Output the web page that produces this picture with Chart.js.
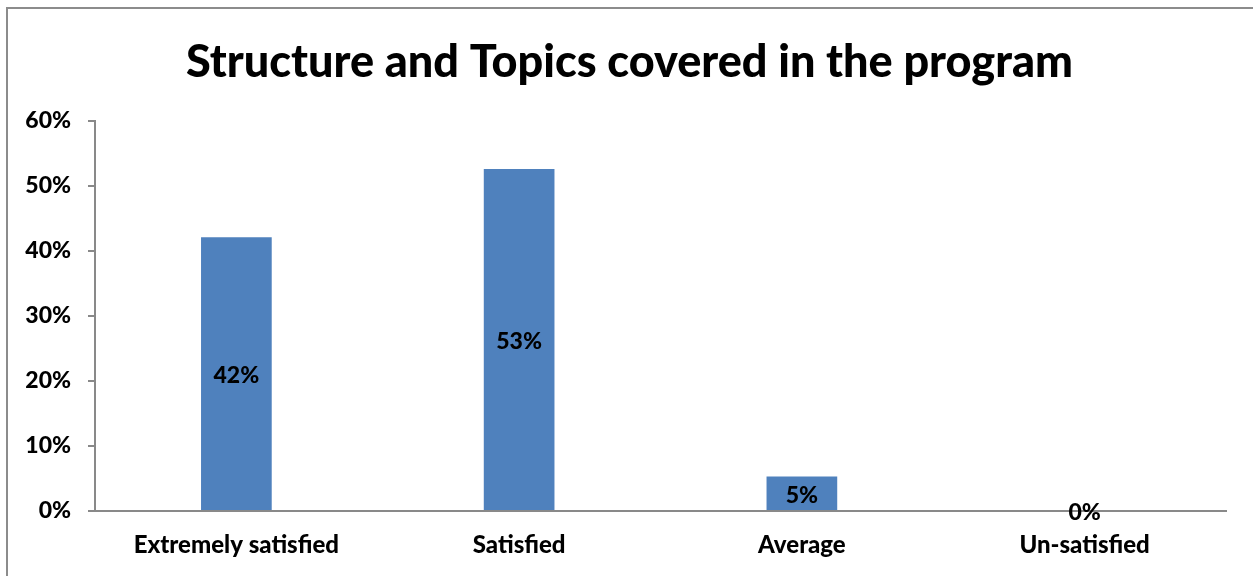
<!DOCTYPE html>
<html>
<head>
<meta charset="utf-8">
<script src="https://cdn.jsdelivr.net/npm/chart.js@4/dist/chart.umd.min.js"></script>
<style>
  html, body { margin: 0; padding: 0; background: #fff; }
  #wrap { position: relative; width: 1253px; height: 576px; overflow: hidden; }
  #frame { position: absolute; left: 6px; top: 7px; width: 1300px; height: 600px; border: 2px solid #8c8c8c; box-sizing: border-box; }
  #chart { position: absolute; left: 0; top: 0; }
</style>
</head>
<body>
<div id="wrap">
  <div id="frame"></div>
  <canvas id="chart" width="1253" height="576"></canvas>
</div>
<script>
// data
const categories = ['Extremely satisfied', 'Satisfied', 'Average', 'Un-satisfied'];
const shares = [42.1, 52.6, 5.3, 0];
const yTicks = [0, 10, 20, 30, 40, 50, 60];
const titleText = 'Structure and Topics covered in the program';

const fontFamily = 'Lato, "Open Sans", sans-serif';
const axisGray = '#898989';

// draws the value label in the middle of each bar
const barLabels = {
  id: 'barLabels',
  afterDatasetsDraw(chart) {
    const ctx = chart.ctx;
    const meta = chart.getDatasetMeta(0);
    ctx.save();
    ctx.font = '900 23px ' + fontFamily;
    ctx.fillStyle = '#000';
    ctx.textAlign = 'center';
    ctx.textBaseline = 'middle';
    meta.data.forEach(function (bar, i) {
      const mid = (bar.y + bar.base) / 2;
      ctx.fillText(Math.round(shares[i]) + '%', bar.x, mid + 2);
    });
    ctx.restore();
  }
};

new Chart(document.getElementById('chart'), {
  type: 'bar',
  data: {
    labels: categories,
    datasets: [{
      data: shares,
      backgroundColor: '#4F81BD',
      barPercentage: 1,
      categoryPercentage: 0.25
    }]
  },
  options: {
    responsive: false,
    animation: false,
    layout: { padding: { left: 6, right: 0, top: 0, bottom: 0 } },
    plugins: {
      legend: { display: false },
      tooltip: { enabled: false },
      title: {
        display: true,
        text: titleText,
        color: '#000',
        font: { family: fontFamily, size: 45, weight: 900, lineHeight: 1.2 },
        padding: { top: 35, bottom: 32 }
      }
    },
    scales: {
      x: {
        grid: { display: false, drawTicks: false },
        border: { display: true, color: axisGray, width: 2 },
        ticks: {
          color: '#000',
          padding: 20,
          font: { family: fontFamily, size: 24, weight: 900 }
        },
        afterFit(scale) { scale.height = 65; }
      },
      y: {
        min: 0,
        max: 60,
        afterBuildTicks(scale) { scale.ticks = yTicks.map(v => ({ value: v })); },
        grid: { drawOnChartArea: false, drawTicks: true, tickLength: 7, color: axisGray, lineWidth: 2 },
        border: { display: true, color: axisGray, width: 2 },
        ticks: {
          color: '#000',
          padding: 17,
          font: { family: fontFamily, size: 23, weight: 900 },
          callback: v => v + '%'
        },
        afterFit(scale) { scale.width = 89; }
      },
      // empty right axis, only keeps the plot clear of the right edge
      yRight: {
        position: 'right',
        min: 0,
        max: 60,
        grid: { display: false },
        border: { display: false },
        ticks: { display: false },
        afterFit(scale) { scale.width = 27; }
      }
    }
  },
  plugins: [barLabels]
});
</script>
</body>
</html>
